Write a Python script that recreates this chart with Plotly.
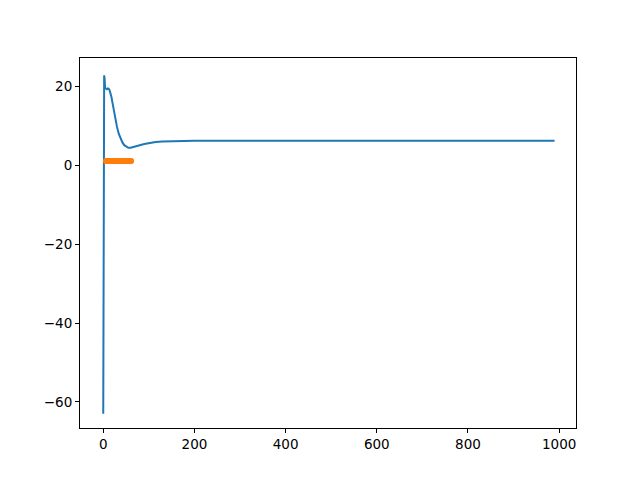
import plotly.graph_objects as go

# Blue series
blue_x = [0, 1, 2, 3, 4, 6, 8, 10, 12, 14, 16, 18, 20, 23, 26, 30, 34, 38, 42, 46, 50, 55, 60, 66, 72, 80, 90, 100, 115, 130, 150, 175, 200, 250, 300, 400, 500, 600, 700, 800, 900, 990]
blue_y = [-63.0, -20.0, 22.8, 22.0, 19.6, 19.4, 19.3, 19.5, 19.4, 19.0, 18.3, 17.3, 16.0, 14.0, 12.0, 9.8, 8.0, 6.7, 5.8, 5.1, 4.7, 4.45, 4.45, 4.6, 4.85, 5.1, 5.4, 5.65, 5.9, 6.05, 6.15, 6.2, 6.25, 6.25, 6.25, 6.25, 6.25, 6.25, 6.25, 6.25, 6.25, 6.25]

# Orange series
orange_x = list(range(6, 62))
orange_y = [1.1] * len(orange_x)

x_ticks = [0, 200, 400, 600, 800, 1000]
y_ticks = [-60, -40, -20, 0, 20]

fig = go.Figure()
fig.add_trace(go.Scatter(x=blue_x, y=blue_y, mode="lines",
                         line=dict(color="#1f77b4", width=2), showlegend=False))
fig.add_trace(go.Scatter(x=orange_x, y=orange_y, mode="markers",
                         marker=dict(color="#ff7f0e", size=6), showlegend=False))

axis_common = dict(showgrid=False, zeroline=False, showline=True, linecolor="black",
                   linewidth=1, mirror=True, ticks="outside", ticklen=4, tickcolor="black",
                   tickfont=dict(family="DejaVu Sans", size=13.5, color="black"))

fig.update_layout(
    width=632, height=472,
    margin=dict(l=72, r=64, t=50, b=52),
    paper_bgcolor="white", plot_bgcolor="white",
    xaxis=dict(range=[-51, 1037], tickvals=x_ticks, **axis_common),
    yaxis=dict(range=[-66.6, 27.2], tickvals=y_ticks,
               ticktext=["\u221260", "\u221240", "\u221220", "0", "20"], **axis_common),
)

fig.write_html("out.html")
